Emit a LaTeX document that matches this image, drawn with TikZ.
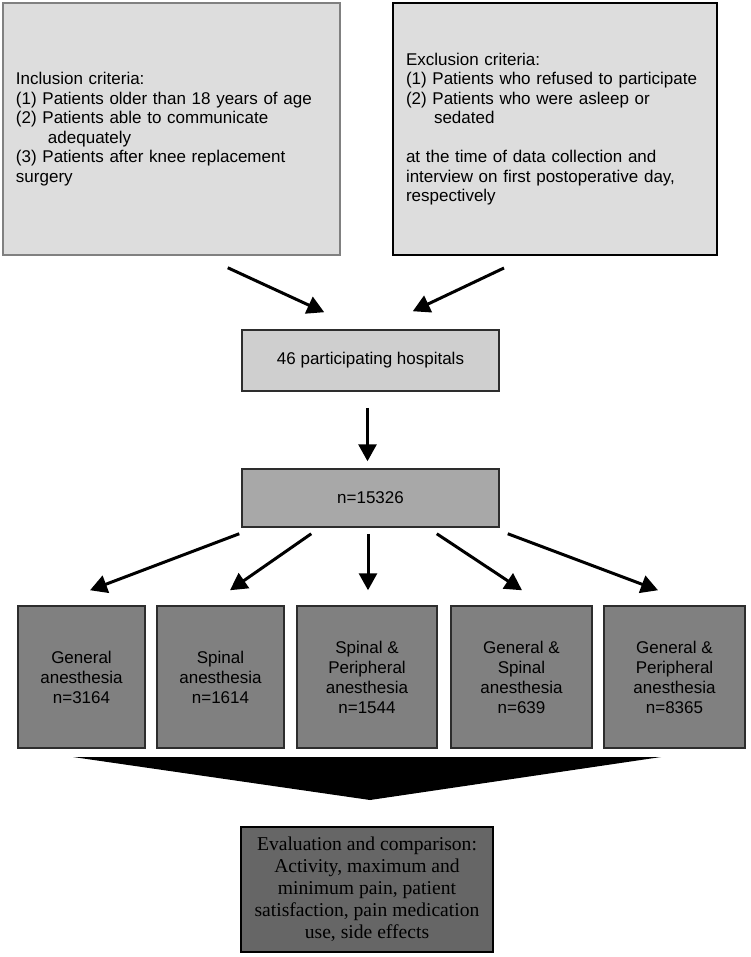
\documentclass[tikz,border=0pt]{standalone}
\usepackage{fontspec}
\setmainfont{Liberation Sans}
\newfontfamily\evalfont{Liberation Serif}
\usepackage{tikz}
\definecolor{critgray}{RGB}{221,221,221}
\definecolor{hospgray}{RGB}{207,207,207}
\definecolor{countgray}{RGB}{168,168,168}
\definecolor{groupgray}{RGB}{128,128,128}
\definecolor{evalgray}{RGB}{102,102,102}
\definecolor{edgegray}{RGB}{45,45,45}
\usetikzlibrary{arrows.meta, positioning, calc}

\begin{document}
\begin{tikzpicture}[
    x=0.5pt, y=-0.5pt,
    critbox/.style={rectangle, fill=critgray, minimum height=126pt,
                inner sep=6.5pt, align=left, font=\fontsize{8.5}{9.75}\selectfont},
    hospbox/.style={rectangle, draw=edgegray, line width=0.75pt, fill=hospgray,
                minimum width=128.5pt, minimum height=30.5pt, font=\fontsize{8.5}{10}\selectfont},
    groupbox/.style={rectangle, draw=edgegray, line width=0.75pt, fill=groupgray,
                minimum height=71pt, align=center, font=\fontsize{8.5}{10}\selectfont},
    evalbox/.style={rectangle, draw=black, line width=0.75pt, fill=evalgray,
                minimum width=126pt, minimum height=62.5pt, align=center,
                font=\evalfont\fontsize{9.8}{11}\selectfont},
    arrow/.style={-{Triangle[length=8.5pt, width=9pt]}, line width=1.5pt, black}
]
    \useasboundingbox (0,0) rectangle (750,957);

    \node[critbox, draw=gray, line width=0.75pt, minimum width=168.5pt, text width=155.5pt] (incl) at (171.5,129)
        {Inclusion criteria:\\(1) Patients older than 18 years of age\\(2) Patients able to communicate\\
         \hspace*{16pt}adequately\\(3) Patients after knee replacement\\surgery};
    \node[critbox, draw=black, line width=1pt, minimum width=162pt, text width=149pt] (excl) at (555,129)
        {Exclusion criteria:\\(1) Patients who refused to participate\\(2) Patients who were asleep or\\
         \hspace*{14pt}sedated\\[9.75pt]at the time of data collection and\\interview on first postoperative day,\\respectively};

    \node[hospbox] (hosp) at (370.5,360.5) {46 participating hospitals};
    \node[hospbox, fill=countgray, minimum height=29pt] (count) at (370.5,498) {n=15326};

    \node[groupbox, minimum width=63.5pt] (general) at (81.5,677) {General\\anesthesia\\n=3164};
    \node[groupbox, minimum width=63.5pt] (spinal) at (220.5,677) {Spinal\\anesthesia\\n=1614};
    \node[groupbox, minimum width=70pt] (spinper) at (367,677) {Spinal \&\\Peripheral\\anesthesia\\n=1544};
    \node[groupbox, minimum width=70.5pt] (genspin) at (521.5,677) {General \&\\Spinal\\anesthesia\\n=639};
    \node[groupbox, minimum width=70.5pt] (genper) at (674.5,677) {General \&\\Peripheral\\anesthesia\\n=8365};

    \node[evalbox] (eval) at (367,889.5)
        {Evaluation and comparison:\\Activity, maximum and\\minimum pain, patient\\satisfaction, pain medication\\use, side effects};

    \draw[arrow] ($(incl.south east)+(-113,12)$) -- ($(hosp.north west)+(83,-17)$);
    \draw[arrow] ($(excl.south west)+(112,12)$) -- ($(hosp.north east)+(-87,-18)$);
    \draw[arrow] ($(hosp.south)+(-3,16)$) -- ($(count.north)+(-3,-7)$);

    \draw[arrow] ($(count.south west)+(-2,6)$) -- ($(general.north)+(8.5,-15)$);
    \draw[arrow] ($(count.south west)+(70,6)$) -- ($(spinal.north)+(9.5,-15)$);
    \draw[arrow] ($(count.south)+(-2.5,6)$) -- ($(spinper.north)+(1,-15)$);
    \draw[arrow] ($(count.south east)+(-63,6)$) -- ($(genspin.north)+(0.5,-15)$);
    \draw[arrow] ($(count.south east)+(8,6)$) -- ($(genper.north)+(-16.5,-15)$);

    % merging chevron
    \fill[black] (73,757) -- (661,757) -- (370,800) -- cycle;
\end{tikzpicture}
\end{document}
